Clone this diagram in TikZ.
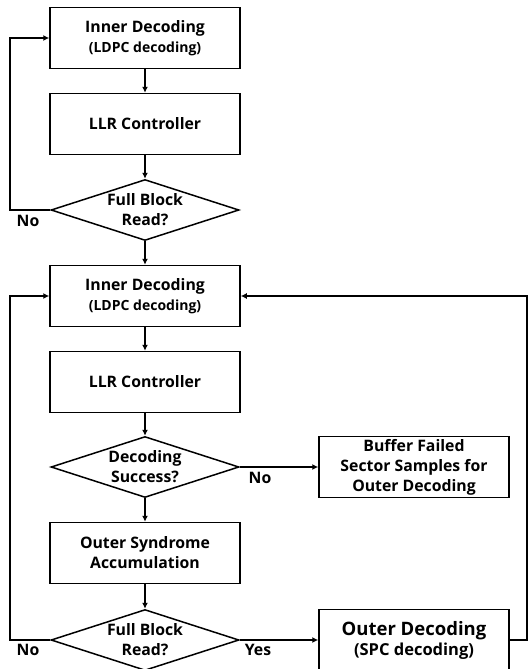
\documentclass[tikz,border=0pt]{standalone}
\usepackage{fontspec}
\setsansfont{Open Sans}
\usetikzlibrary{shapes.geometric,arrows.meta}

\begin{document}
\begin{tikzpicture}[x=1pt, y=-1pt,
			>={Latex[length=6pt,width=6pt]},   %Pfeilspitzen
			font=\sffamily\bfseries\fontsize{15.8}{20}\selectfont,
			box/.style={draw, line width=1.5pt, minimum width=190pt, minimum height=61pt, align=center, inner sep=0pt},
			raute/.style={draw, diamond, line width=1.5pt, aspect=3.1, minimum width=188pt, minimum height=61pt, align=center, inner sep=0pt},
			pfeil/.style={->, line width=1.5pt}]
			%Bildbereich
			\useasboundingbox (0,0) rectangle (528,669);
			% erster Durchlauf
			\node[box] (inner1) at (145,38) {Inner Decoding\\{\fontsize{14}{14}\selectfont (LDPC decoding)}};
			\node[box] (llr1) at (145,124) {LLR Controller};
			\node[raute] (full1) at (145,210) {Full Block\\Read?};
			% zweiter Durchlauf
			\node[box] (inner2) at (145,296) {Inner Decoding\\{\fontsize{14}{14}\selectfont (LDPC decoding)}};
			\node[box] (llr2) at (145,382) {LLR Controller};
			\node[raute] (succ) at (145,467) {Decoding\\Success?};
			\node[box] (synd) at (145,553) {Outer Syndrome\\Accumulation};
			\node[raute] (full2) at (145,640) {Full Block\\Read?};
			\node[box] (buffer) at (414,467) {Buffer Failed\\Sector Samples for\\Outer Decoding};
			\node[box] (outer) at (414,640) {{\fontsize{18.5}{22}\selectfont Outer Decoding}\\{\fontsize{16.5}{20}\selectfont (SPC decoding)}};
			% Hilfspunkte
			\coordinate (lo1) at (10,38);
			\coordinate (lo2) at (10,296);
			\coordinate (ro) at (527,296);
			% Pfeile
			\draw[pfeil] (inner1) -- (llr1);
			\draw[pfeil] (llr1) -- (full1);
			\draw[pfeil] (full1.west) -| (lo1) -- (inner1.west);
			\draw[pfeil] (full1) -- (inner2);
			\draw[pfeil] (inner2) -- (llr2);
			\draw[pfeil] (llr2) -- (succ);
			\draw[pfeil] (succ) -- (synd);
			\draw[pfeil] (synd) -- (full2);
			\draw[pfeil] (succ) -- (buffer);
			\draw[pfeil] (full2) -- (outer);
			\draw[pfeil] (full2.west) -| (lo2) -- (inner2.west);
			\draw[pfeil] (outer.east) -| (ro) -- (inner2.east);
			%Beschriftung
			\node (no1) at (28,221) {No};
			\node (no2) at (260,478) {No};
			\node (no3) at (28,650) {No};
			\node (yes) at (258,650) {Yes};
		\end{tikzpicture}
\end{document}
